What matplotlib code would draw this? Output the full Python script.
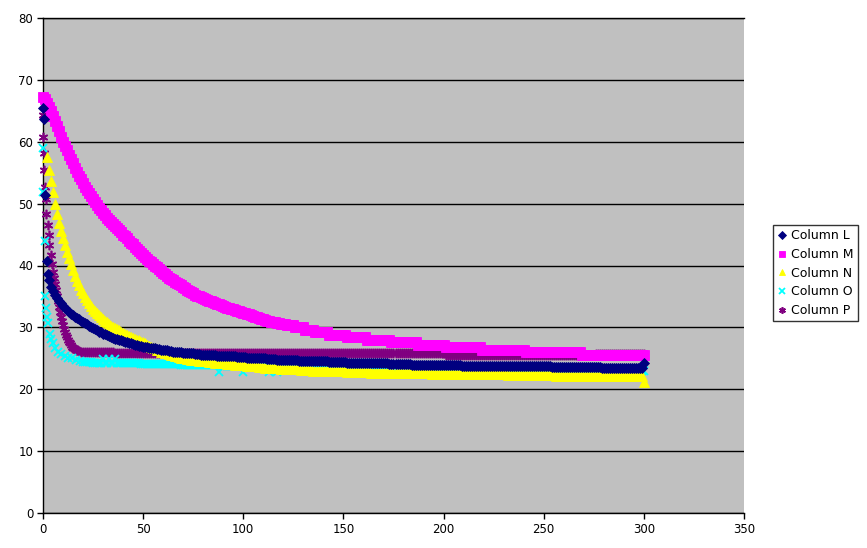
import numpy as np
import matplotlib
matplotlib.use("Agg")
import matplotlib.pyplot as plt
from matplotlib.lines import Line2D

# ---------------- data ----------------
series_names = ["Column L", "Column M", "Column N", "Column O", "Column P"]

# Column L
L_head_x = [0, 0.3, 1, 2, 2.6]
L_head_y = [65.5, 63.7, 51.4, 40.8, 38.6]
L_start = 3
L_mid = [37.6, 36.6, 35.9, 35.3, 34.8, 34.3, 33.9, 33.5, 33.1, 32.8, 32.5, 32.2,
         32.0, 31.7, 31.5, 31.3, 31.1, 30.9, 30.7, 30.5, 30.3, 30.1, 29.9, 29.7,
         29.5, 29.3, 29.2, 29.0, 28.9, 28.7, 28.6, 28.5, 28.3, 28.2, 28.1, 28.0,
         27.9, 27.8, 27.7, 27.6, 27.5, 27.4, 27.3, 27.2, 27.1, 27.0, 26.95]
L_tail = [(26.9, 1), (26.8, 2), (26.7, 2), (26.6, 2), (26.5, 2), (26.4, 2), (26.3, 2),
          (26.2, 2), (26.1, 2), (26.0, 3), (25.9, 3), (25.8, 3), (25.7, 3), (25.6, 4),
          (25.5, 4), (25.4, 5), (25.3, 5), (25.2, 5), (25.1, 5), (25.0, 5), (24.9, 5),
          (24.8, 5), (24.7, 6), (24.6, 7), (24.5, 8), (24.4, 9), (24.3, 10), (24.2, 11),
          (24.1, 11), (24.0, 11), (23.9, 14), (23.8, 20), (23.7, 25), (23.6, 25),
          (23.5, 21), (24.3, 1)]

# Column M
M_head_x = []
M_head_y = []
M_start = 0
M_mid = [67.2, 66.9, 66.3, 65.6, 64.9, 64.1, 63.3, 62.5, 61.7, 60.8, 60.0, 59.3,
         58.6, 57.9, 57.2, 56.5, 55.8, 55.1, 54.5, 53.9, 53.3, 52.7, 52.2, 51.7,
         51.2, 50.7, 50.2, 49.7, 49.3, 48.9, 48.5, 48.1, 47.7, 47.3, 47.0, 46.7,
         46.4, 46.0, 45.7, 45.4, 45.0, 44.7, 44.4, 44.0, 43.7, 43.4, 43.0, 42.7,
         42.4, 42.0, 41.7, 41.4, 41.1, 40.8, 40.5, 40.3, 40.0, 39.7, 39.4, 39.1,
         38.8, 38.6, 38.3, 38.0, 37.8, 37.6, 37.4, 37.2, 37.0, 36.8, 36.6, 36.4,
         36.1, 35.9, 35.7, 35.5, 35.3, 35.1, 35.0, 34.9, 34.7, 34.6, 34.5, 34.3,
         34.2, 34.1, 33.9, 33.8, 33.7, 33.6, 33.4, 33.3, 33.2, 33.1, 33.0, 32.9,
         32.8, 32.7, 32.6, 32.5, 32.4, 32.3, 32.2, 32.1, 32.0, 31.8, 31.7, 31.6,
         31.5, 31.4, 31.3, 31.2, 31.1, 31.0, 30.9, 30.9, 30.8, 30.7, 30.7, 30.6,
         30.5, 30.5, 30.4]
M_tail = [(30.4, 3), (30.0, 5), (29.6, 5), (29.2, 7), (28.8, 9), (28.4, 10), (28.0, 12),
          (27.6, 13), (27.2, 14), (26.8, 18), (26.4, 22), (26.0, 28), (25.6, 32)]

# Column N
N_head_x = []
N_head_y = []
N_start = 2
N_mid = [57.6, 55.4, 53.6, 51.8, 50.0, 48.4, 46.9, 45.6, 44.4, 43.3, 42.2, 41.2,
         40.2, 39.2, 38.3, 37.5, 36.8, 36.1, 35.5, 34.9, 34.4, 33.9, 33.4, 33.0,
         32.6, 32.3, 32.0, 31.7, 31.4, 31.1, 30.8, 30.5, 30.3, 30.1, 29.9, 29.7,
         29.5, 29.3, 29.1, 28.9, 28.7, 28.6, 28.4, 28.3, 28.1, 28.0, 27.9, 27.7,
         27.6, 27.4, 27.2, 27.0, 26.9, 26.7, 26.6, 26.4, 26.3, 26.1, 26.0, 25.9,
         25.8, 25.7, 25.6, 25.5, 25.4, 25.3, 25.2, 25.1, 25.1, 25.0, 24.9, 24.9,
         24.8, 24.8]
N_tail = [(24.7, 2), (24.6, 2), (24.5, 3), (24.4, 3), (24.3, 3), (24.2, 3), (24.1, 4),
          (24.0, 3), (23.9, 3), (23.8, 3), (23.7, 3), (23.6, 3), (23.5, 4), (23.4, 4),
          (23.3, 5), (23.2, 5), (23.1, 6), (23.0, 8), (22.9, 9), (22.8, 12), (22.7, 14),
          (22.6, 16), (22.5, 18), (22.4, 20), (22.3, 24), (22.2, 24), (22.1, 20),
          (21.1, 1)]

# Column O
O_head_x = [0, 0.2, 0.9, 1.0, 1.5, 1.8, 2.5, 3.3, 4.2, 5.0, 6.2, 7.5, 9.0, 10.8,
            12.5, 14.5, 16.5, 18.5]
O_head_y = [59.0, 51.9, 44.0, 35.0, 33.1, 31.7, 30.7, 29.0, 28.1, 27.4, 26.7, 26.1,
            25.7, 25.3, 25.1, 25.0, 24.8, 24.6]
O_start = 20
O_mid = []
O_tail = [(24.4, 5), (24.3, 5), (24.9, 1), (24.3, 2), (24.9, 1), (24.3, 2), (24.9, 1),
          (24.2, 12), (24.1, 20), (24.0, 10), (23.9, 9), (22.8, 1), (23.8, 11),
          (22.8, 1), (23.7, 12), (22.8, 1), (23.6, 3), (22.8, 1), (23.6, 8),
          (23.5, 12), (23.4, 14), (23.3, 20), (23.2, 25), (23.1, 30), (23.0, 35),
          (22.9, 39)]

# Column P
P_head_x = [0, 0.15, 0.3, 0.5, 1.0, 1.3, 1.7, 2.3, 2.8, 3.2, 3.8, 4.4, 5.0, 5.5, 6.0,
            6.5, 7.0, 7.5, 8.0, 8.5, 9.0, 9.5, 10, 10.5, 11, 11.5, 12, 12.5, 13,
            13.5, 14, 14.5, 15, 15.5, 16, 16.5, 17, 18, 19]
P_head_y = [64.3, 60.8, 58.2, 55.4, 52.7, 50.8, 48.4, 46.5, 44.9, 43.3, 41.7, 40.2,
            39.0, 38.0, 37.0, 36.0, 35.1, 34.2, 33.3, 32.5, 31.7, 31.0, 30.4, 29.8,
            29.3, 28.8, 28.4, 28.0, 27.7, 27.4, 27.1, 26.9, 26.7, 26.6, 26.5, 26.4,
            26.3, 26.2, 26.1]
P_start = 20
P_mid = []
P_tail = [(26.0, 16), (25.9, 20), (25.8, 145), (25.6, 75), (25.7, 25)]

x_ticks = [0, 50, 100, 150, 200, 250, 300, 350]
y_ticks = [0, 10, 20, 30, 40, 50, 60, 70, 80]


def build(head_x, head_y, start, mid, tail):
    tail_vals = [v for v, c in tail for _ in range(c)]
    vals = list(mid) + tail_vals
    xs = list(head_x) + [start + i for i in range(len(vals))]
    ys = list(head_y) + vals
    return np.array(xs, float), np.array(ys, float)


data = {
    "Column L": build(L_head_x, L_head_y, L_start, L_mid, L_tail),
    "Column M": build(M_head_x, M_head_y, M_start, M_mid, M_tail),
    "Column N": build(N_head_x, N_head_y, N_start, N_mid, N_tail),
    "Column O": build(O_head_x, O_head_y, O_start, O_mid, O_tail),
    "Column P": build(P_head_x, P_head_y, P_start, P_mid, P_tail),
}

styles = {
    "Column L": dict(marker="D", color="#000080", ms=5.6, mew=0.6),
    "Column M": dict(marker="s", color="#FF00FF", ms=6.6, mew=0.6),
    "Column N": dict(marker="^", color="#FFFF00", ms=7.0, mew=0.6),
    "Column O": dict(marker="x", color="#00FFFF", ms=6.2, mew=1.3),
    "Column P": dict(marker=(6, 2, 0), color="#800080", ms=6.8, mew=1.2),
}

# ---------------- figure ----------------
fig = plt.figure(figsize=(8.67, 5.48), dpi=100)
fig.patch.set_facecolor("white")
ax = fig.add_axes([43 / 867, 35 / 548, 701 / 867, 495 / 548])
ax.set_facecolor("#C0C0C0")

# draw P first (bottom) ... L last (top)
for z, name in enumerate(reversed(series_names)):
    x, y = data[name]
    st = styles[name]
    ax.plot(x, y, linestyle="none", marker=st["marker"], markersize=st["ms"],
            markerfacecolor=st["color"], markeredgecolor=st["color"],
            markeredgewidth=st["mew"], zorder=3 + z, clip_on=False)

ax.set_xlim(0, 350)
ax.set_ylim(0, 80)
ax.set_xticks(x_ticks)
ax.set_yticks(y_ticks)
ax.yaxis.grid(True, color="black", linewidth=1.0)
ax.xaxis.grid(False)
ax.set_axisbelow(True)

for side in ["left", "bottom", "top"]:
    ax.spines[side].set_color("black")
    ax.spines[side].set_linewidth(1.0)
ax.spines["right"].set_visible(False)

ax.tick_params(axis="both", direction="out", length=4, width=1, color="black",
               labelsize=8.5, labelcolor="black")
ax.tick_params(axis="y", pad=3)
ax.tick_params(axis="x", pad=3)

handles = []
for name in series_names:
    st = styles[name]
    handles.append(Line2D([], [], linestyle="none", marker=st["marker"],
                          markersize=st["ms"] * 0.7, markerfacecolor=st["color"],
                          markeredgecolor=st["color"], markeredgewidth=st["mew"]))
leg = fig.legend(handles, series_names, loc="upper left",
                 bbox_to_anchor=(773 / 867, 1 - 225 / 548),
                 frameon=True, fancybox=False, shadow=False, fontsize=9,
                 handlelength=0.8, handletextpad=0.3, labelspacing=0.45,
                 borderpad=0.35, borderaxespad=0.0)
leg.get_frame().set_edgecolor("black")
leg.get_frame().set_linewidth(1.0)
leg.get_frame().set_facecolor("white")

fig.savefig("out.png", dpi=100)
